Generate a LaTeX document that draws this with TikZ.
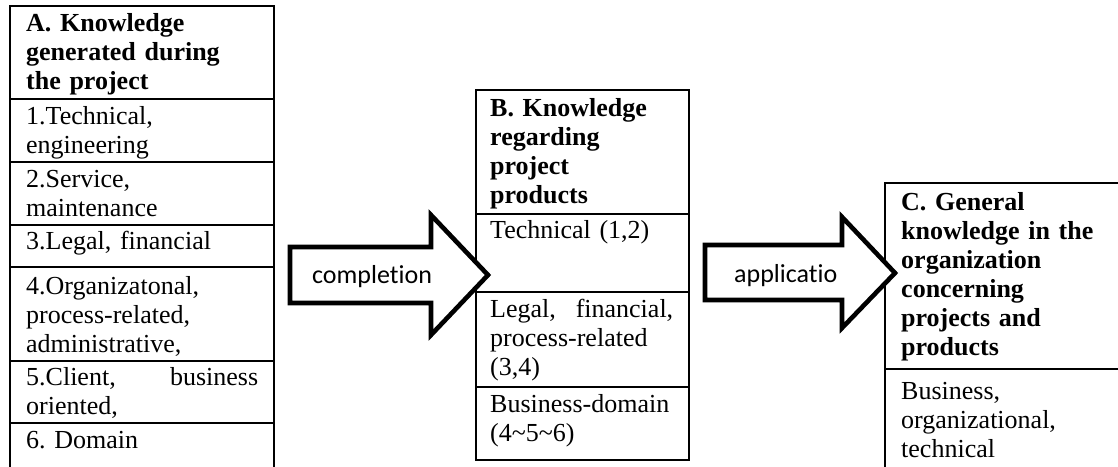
\documentclass[tikz,border=0pt]{standalone}
\usepackage{fontspec}
\setmainfont{Liberation Serif}
\newfontfamily\calibri[Ligatures={NoCommon}]{Carlito}
\frenchspacing
\begin{document}
\begin{tikzpicture}[x=1pt,y=-1pt,
  cellline/.style={line width=2.4pt,line cap=rect},
  blockarrow/.style={line width=4.6pt,fill=white,line join=miter},
  celltext/.style={anchor=base west,inner sep=0pt,align=left,font=\fontsize{26}{29}\selectfont\frenchspacing},
  headtext/.style={celltext,font=\fontsize{26}{29}\selectfont\bfseries\frenchspacing},
  arrowtext/.style={anchor=base west,inner sep=0pt,font=\calibri\fontsize{26}{30}\selectfont}]
\useasboundingbox (0,0) rectangle (1118,466);
\clip (0,0) rectangle (1118,466);
\fill[white] (0,0) rectangle (1118,466);
% Box A
\draw[cellline] (10,470) -- (10,6) -- (274,6) -- (274,470);
\foreach \yy in {99,162,225,267,361,423} \draw[cellline] (10,\yy) -- (274,\yy);
% Box B
\draw[cellline] (476,90) rectangle (689,460);
\foreach \yy in {214,292,387} \draw[cellline] (476,\yy) -- (689,\yy);
% Box C
\draw[cellline] (885,470) -- (885,183) -- (1125,183);
\draw[cellline] (885,369) -- (1125,369);
% texts A
\node[headtext,text width=240pt] (a0) at (26,31) {A. Knowledge\\generated during\\the project};
\node[celltext,text width=232pt] (a1) at (26,124) {1.Technical,\\engineering};
\node[celltext,text width=232pt] (a2) at (26,187) {2.Service,\\maintenance};
\node[celltext,text width=232pt] (a3) at (26,249) {3.Legal, financial};
\node[celltext,text width=232pt] (a4) at (26,294) {4.Organizatonal,\\process-related,\\administrative,};
\node[celltext,text width=232pt] (a5) at (26,385) {5.Client,\hfill business\\oriented,};
\node[celltext,text width=232pt] (a6) at (26,448) {6. Domain};
% texts B
\node[headtext,text width=183pt] (b0) at (490,116) {B. Knowledge\\regarding\\project\\products};
\node[celltext,text width=183pt] (b1) at (490,238) {Technical (1,2)};
\node[celltext,text width=183pt] (b2) at (490,317) {Legal,\hfill financial,\\process-related\\(3,4)};
\node[celltext,text width=183pt] (b3) at (490,412) {Business-domain\\(4\textasciitilde5\textasciitilde6)};
% texts C
\node[headtext,text width=210pt] (c0) at (901,210) {C. General\\knowledge in the\\organization\\concerning\\projects and\\products};
\node[celltext,text width=210pt] (c1) at (901,399) {Business,\\organizational,\\technical};
% arrows
\draw[blockarrow] (290,247) -- (431,247) -- (431,215) -- (488,275) -- (431,335) -- (431,303) -- (290,303) -- cycle;
\node[arrowtext] (t1) at (312,283) {completion};
\draw[blockarrow] (705,245) -- (842,245) -- (842,217) -- (895,273) -- (842,328) -- (842,300) -- (705,300) -- cycle;
\node[arrowtext] (t2) at (734,282) {applicatio};
\end{tikzpicture}
\end{document}
